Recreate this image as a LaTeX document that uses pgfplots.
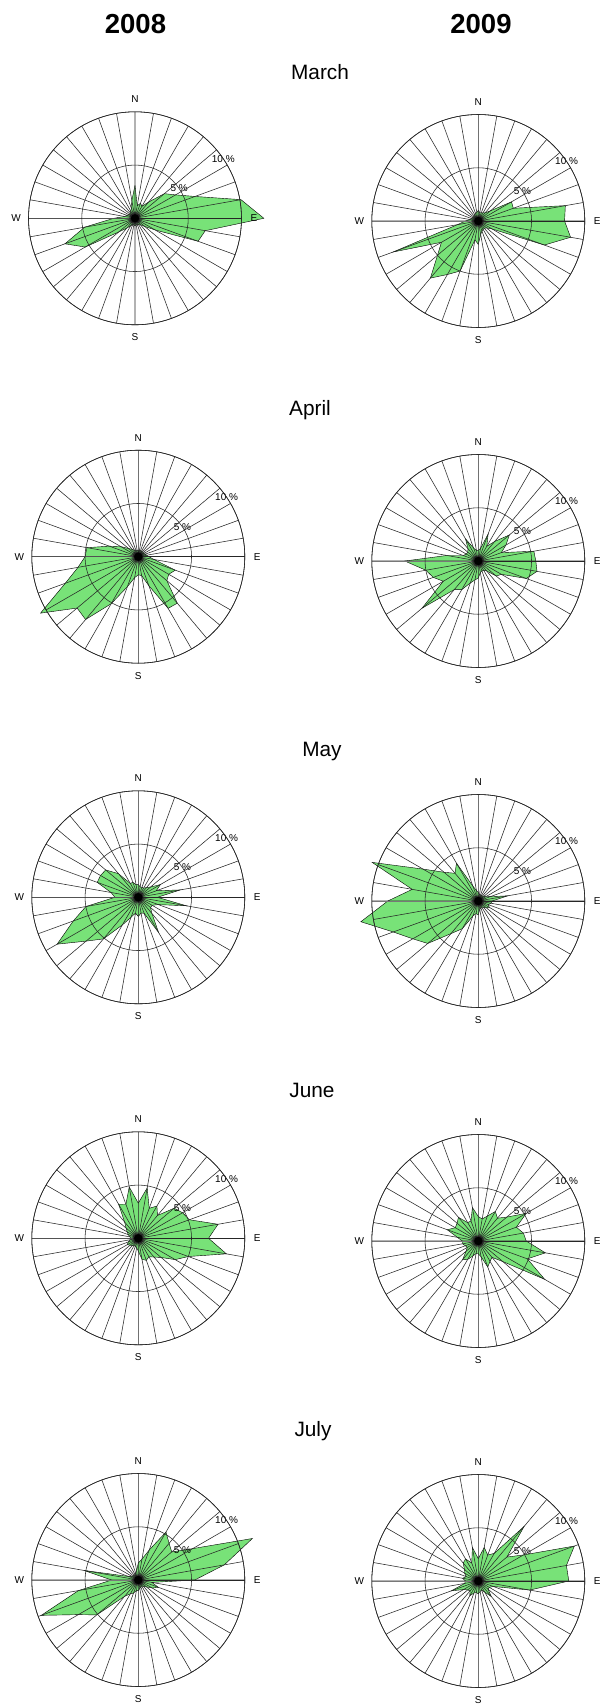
\documentclass[border=0pt]{standalone}
\usepackage{fontspec}
\setmainfont{Liberation Sans}
\usepackage{pgfplots}
\usepackage{pgfplotstable}
\usepgfplotslibrary{polar}
\pgfplotsset{compat=1.18}
\definecolor{rosegreen}{RGB}{120,226,120}

\pgfplotstableread{
b   m08  m09  a08  a09  y08  y09  j08  j09  l08  l09
0   3.1  1.0  0.6  1.0  1.2  0.8  3.3  2.3  1.6  2.1
10  1.2  0.8  0.6  1.2  1.0  0.6  4.8  2.1  2.0  3.2
20  1.5  0.8  0.6  2.7  1.0  0.6  3.0  2.5  3.0  2.6
30  1.3  0.9  0.6  1.6  1.0  0.6  3.5  3.2  5.2  3.0
40  2.0  1.0  0.6  2.4  1.2  0.6  2.8  2.8  4.5  6.7
50  3.6  1.5  0.6  3.8  1.5  0.7  4.4  3.5  4.1  3.5
60  4.4  3.6  0.6  3.0  2.4  0.8  4.8  5.2  5.9  4.9
70  6.0  3.5  0.7  2.3  1.8  1.2  5.1  3.8  11.4 9.6
80  10.1 8.3  0.8  5.3  4.0  2.8  7.6  4.3  8.2  8.4
90  12.1 8.1  1.0  5.4  1.8  1.3  6.6  4.5  5.3  8.5
100 6.7  8.8  1.5  5.6  4.6  1.2  8.4  6.4  1.3  4.9
110 6.3  6.6  3.7  4.8  2.0  1.0  5.0  4.9  2.0  1.5
120 2.2  1.5  3.3  2.5  1.5  1.2  4.0  7.2  1.5  1.2
130 1.2  1.0  3.5  2.2  1.5  1.0  2.8  3.0  1.0  1.2
140 0.8  0.9  5.7  1.2  2.0  0.8  2.3  2.0  0.8  1.9
150 0.7  0.9  5.6  1.0  3.8  0.7  2.0  2.2  0.7  1.2
160 0.6  1.0  2.9  1.0  1.6  0.7  2.2  2.6  0.7  0.9
170 0.6  1.3  1.8  1.1  1.5  0.8  2.0  1.5  0.8  1.0
180 0.7  2.2  1.7  1.6  1.8  1.3  1.2  1.2  1.0  1.2
190 0.6  1.8  2.0  1.8  1.5  1.2  0.9  1.2  1.0  1.1
200 0.6  5.0  3.0  2.2  2.0  1.5  0.8  1.5  1.3  1.2
210 0.8  5.8  5.1  3.1  3.0  3.0  0.8  2.0  1.5  1.6
220 1.2  7.0  7.7  3.5  5.1  4.0  0.9  2.3  2.0  1.2
230 2.0  5.0  7.5  6.9  6.4  6.2  1.0  1.5  5.1  1.3
240 5.4  4.0  10.6 3.8  8.8  7.1  1.2  1.2  6.5  1.6
250 7.0  8.5  7.3  4.5  6.5  8.5  1.0  1.3  9.7  2.7
260 4.8  2.0  5.75 5.0  5.0  11.2 0.8  1.5  5.7  1.3
270 2.0  1.2  5.0  6.9  2.2  8.5  0.7  1.5  2.5  1.2
280 1.0  0.8  4.9  3.0  2.6  6.3  0.8  2.0  5.2  1.5
290 0.8  0.7  2.9  1.5  4.1  10.6 1.0  3.1  1.0  1.2
300 0.7  0.6  1.9  1.3  4.1  6.0  1.2  2.5  0.7  1.5
310 0.6  0.6  1.2  1.3  4.0  4.2  1.5  2.6  0.6  1.7
320 0.7  0.6  0.9  1.5  2.9  3.4  2.0  2.9  0.6  2.2
330 0.8  0.7  0.7  2.4  1.5  4.1  3.7  2.0  0.6  2.4
340 1.0  0.8  0.6  1.3  1.5  1.5  3.4  2.0  0.7  1.8
350 1.7  0.8  0.6  1.0  1.2  1.0  4.9  3.2  0.9  3.2
360 3.1  1.0  0.6  1.0  1.2  0.8  3.3  2.3  1.6  2.1
}\winddata

\pgfplotsset{rose/.style={
  anchor=origin,
  scale only axis, width=213bp, height=213bp,
  xmin=0, xmax=360, ymin=0, ymax=10,
  xtick={0,10,...,350}, ytick={5,10},
  xticklabel={\relax}, yticklabel={\relax},
  grid=major,
  major grid style={draw=black!85, line width=0.55bp},
  tick style={draw=none},
  axis line style={draw=black!85, line width=0.6bp},
  clip=false, axis on top,
}}

\newcommand{\rose}[3]{%
\begin{polaraxis}[rose, at={(#1bp,-#2bp)}]
\addplot[draw=black, line width=0.4bp, fill=rosegreen] table[x expr={90-\thisrow{b}}, y=#3]{\winddata};
\draw[black!35, line width=1.0bp] (axis cs:0,10) -- (axis cs:180,10);
\addplot[only marks, mark=*, mark size=4bp, black] coordinates {(0,0)};
\node[font=\fontsize{10bp}{12bp}\selectfont] at (axis cs:90,11.17) {N};
\node[font=\fontsize{10bp}{12bp}\selectfont] at (axis cs:0,11.17) {E};
\node[font=\fontsize{10bp}{12bp}\selectfont] at (axis cs:270,11.17) {S};
\node[font=\fontsize{10bp}{12bp}\selectfont] at (axis cs:180,11.17) {W};
\node[font=\fontsize{10bp}{12bp}\selectfont, inner sep=0pt] at (axis cs:34,5) {5 \%};
\node[font=\fontsize{10bp}{12bp}\selectfont, inner sep=0pt] at (axis cs:34,10) {10 \%};
\end{polaraxis}}

\begin{document}
\begin{tikzpicture}
\path[fill=white] (0,0) rectangle (603bp,-1706bp);
\node[font=\fontsize{27.5bp}{30bp}\selectfont\bfseries, anchor=base] at (135.5bp,-33bp) {2008};
\node[font=\fontsize{27.5bp}{30bp}\selectfont\bfseries, anchor=base] at (481bp,-33bp) {2009};
\node[font=\fontsize{20.8bp}{24bp}\selectfont, anchor=base] at (320bp,-79.5bp) {March};
\node[font=\fontsize{20.8bp}{24bp}\selectfont, anchor=base] at (310bp,-415.7bp) {April};
\node[font=\fontsize{20.8bp}{24bp}\selectfont, anchor=base] at (322bp,-756.5bp) {May};
\node[font=\fontsize{20.8bp}{24bp}\selectfont, anchor=base] at (312bp,-1097bp) {June};
\node[font=\fontsize{20.8bp}{24bp}\selectfont, anchor=base] at (313bp,-1436.5bp) {July};
\rose{135}{218.3}{m08}
\rose{478.3}{221}{m09}
\rose{138.3}{556.7}{a08}
\rose{478.3}{561}{a09}
\rose{138.3}{897.3}{y08}
\rose{478.3}{901}{y09}
\rose{138.3}{1238.3}{j08}
\rose{478.3}{1241}{j09}
\rose{138.3}{1580}{l08}
\rose{478.3}{1581}{l09}
\pgfresetboundingbox
\path[use as bounding box] (0,0) rectangle (603bp,-1706bp);
\end{tikzpicture}
\end{document}
